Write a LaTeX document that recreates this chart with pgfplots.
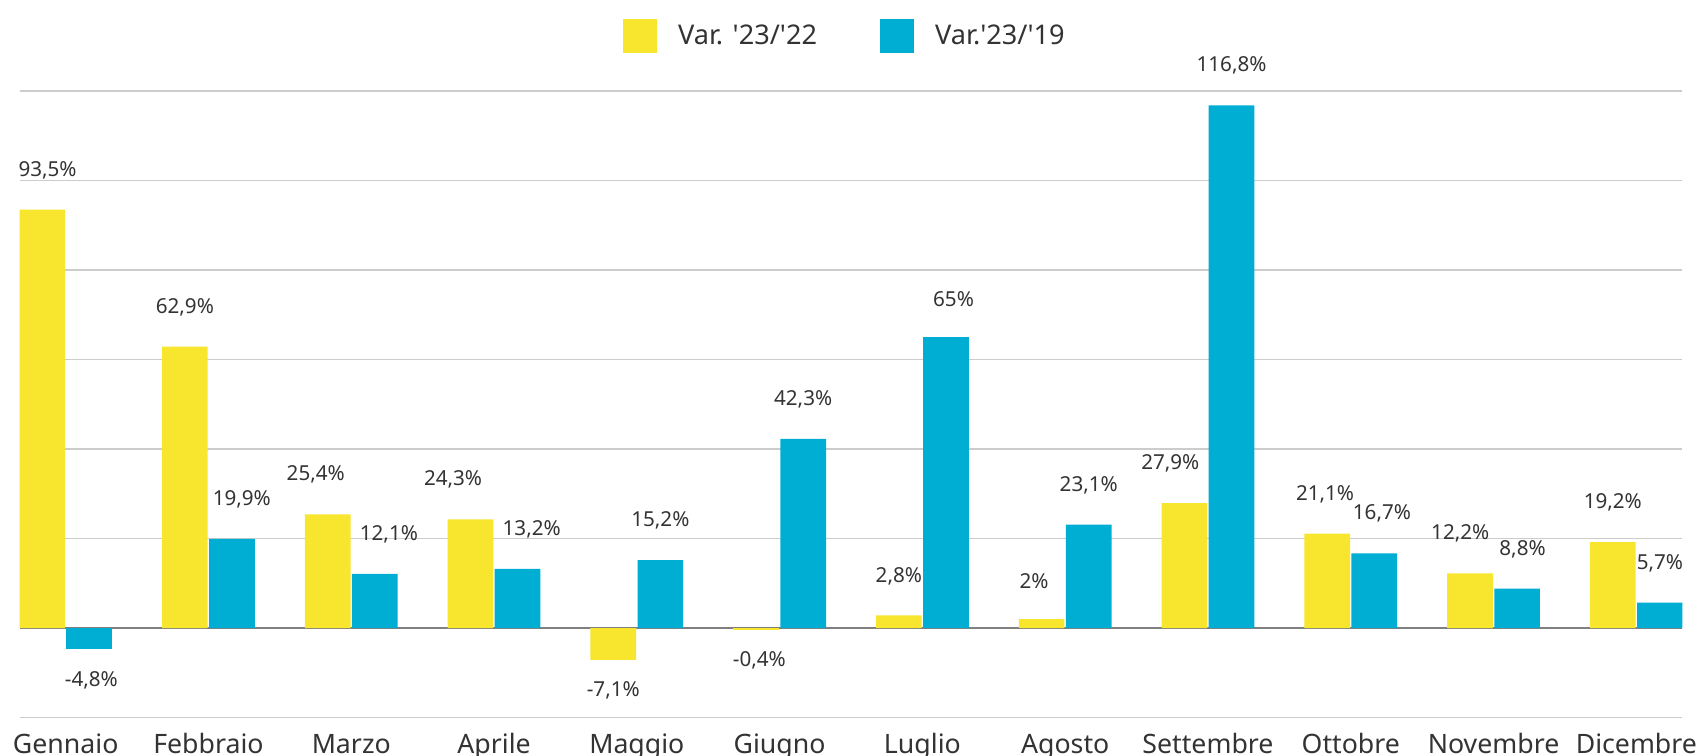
\documentclass[border=0pt]{standalone}
\usepackage{pgfplots}
\pgfplotsset{compat=1.18}
\usepackage{pgfplotstable}
\usepackage{fontspec}
\setmainfont{Noto Sans}[Ligatures=TeXOff]
\definecolor{cy}{HTML}{F7E52E}
\definecolor{cb}{HTML}{00AED4}
\definecolor{tx}{HTML}{333333}

\pgfplotstableread{
x y lab dx
0 93.5 93,5 2.5
1 62.9 62,9 0
2 25.4 25,4 -5.5
3 24.3 24,3 -8
6 2.8 2,8 0
7 2 2 -3.5
8 27.9 27,9 -6.5
9 21.1 21,1 -1
10 12.2 12,2 -4.5
11 19.2 19,2 0
}\ypos
\pgfplotstableread{
x y lab dx
4 -7.1 -7,1 0
5 -0.4 -0,4 1.5
}\yneg
\pgfplotstableread{
x y lab dx
1 19.9 19,9 4.5
2 12.1 12,1 6.5
3 13.2 13,2 6.5
4 15.2 15,2 0
5 42.3 42,3 0
6 65 65 3.5
7 23.1 23,1 0
8 116.8 116,8 0
9 16.7 16,7 3.5
10 8.8 8,8 2.5
11 5.7 5,7 0
}\bpos
\pgfplotstableread{
x y lab dx
0 -4.8 -4,8 1
}\bneg

\begin{document}
\begin{tikzpicture}
\useasboundingbox (-9pt,-17.5pt) rectangle (775pt,330.5pt);
\begin{axis}[
  scale only axis,
  width=766pt, height=288.5pt,
  xmin=-0.323, xmax=11.323,
  ymin=-20, ymax=120,
  axis line style={draw=none},
  tick style={draw=none},
  ytick={-20,20,40,60,80,100,120},
  yticklabels={},
  ymajorgrids,
  grid style={color=black!20, line width=0.7pt},
  extra y ticks={0},
  extra y tick labels={},
  extra y tick style={grid style={color=black!50, line width=1pt}},
  xtick={0,...,11},
  xticklabels={Gennaio,Febbraio,Marzo,Aprile,Maggio,Giugno,Luglio,Agosto,Settembre,Ottobre,Novembre,Dicembre},
  xticklabel style={font=\fontsize{12.3}{14}\selectfont, text=tx, anchor=north,
    inner sep=0pt, text height=9pt, text depth=2.5pt, yshift=-3.3pt},
  ybar, bar width=0.32,
  point meta=explicit symbolic,
  nodes near coords={\pgfplotspointmeta\%},
  every node near coord/.append style={font=\fontsize{9.5}{11}\selectfont, text=tx, inner sep=0pt},
  legend style={at={(0.497,1.088)}, anchor=center, draw=none, fill=none,
    legend columns=2, font=\fontsize{12.5}{14}\selectfont, text=tx,
    /tikz/every even column/.append style={column sep=27pt}},
  legend image code/.code={\fill[#1] (0pt,-7.5pt) rectangle (15pt,7.5pt);},
]
\addlegendimage{cy}
\addlegendentry{\hspace{8pt}Var. '23/'22}
\addlegendimage{cb}
\addlegendentry{\hspace{8pt}Var.'23/'19}
\addplot[forget plot, fill=cy, draw=none, bar shift=-0.165,
  visualization depends on={\thisrow{dx} \as \dx},
  every node near coord/.append style={anchor=south, yshift=14pt, xshift=\dx pt}] table[x=x,y=y,meta=lab]{\ypos};
\addplot[forget plot, fill=cy, draw=none, bar shift=-0.165,
  visualization depends on={\thisrow{dx} \as \dx},
  every node near coord/.append style={anchor=north, yshift=-10pt, xshift=\dx pt}] table[x=x,y=y,meta=lab]{\yneg};
\addplot[forget plot, fill=cb, draw=none, bar shift=0.165,
  visualization depends on={\thisrow{dx} \as \dx},
  every node near coord/.append style={anchor=south, yshift=14pt, xshift=\dx pt}] table[x=x,y=y,meta=lab]{\bpos};
\addplot[forget plot, fill=cb, draw=none, bar shift=0.165,
  visualization depends on={\thisrow{dx} \as \dx},
  every node near coord/.append style={anchor=north, yshift=-10pt, xshift=\dx pt}] table[x=x,y=y,meta=lab]{\bneg};
\end{axis}
\end{tikzpicture}
\end{document}
